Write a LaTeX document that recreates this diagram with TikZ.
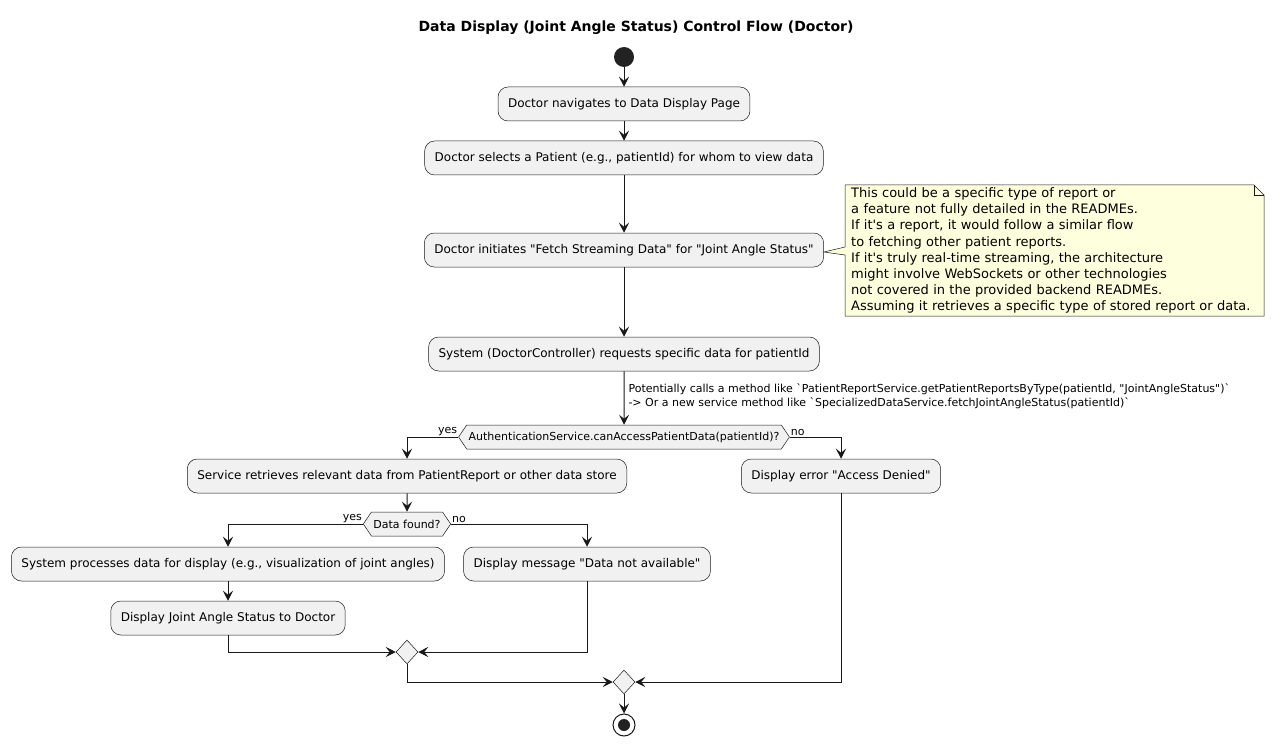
\documentclass[tikz,border=0pt]{standalone}
\usepackage{fontspec}
\setmainfont{DejaVu Sans}[Ligatures=TeXOff]
\usetikzlibrary{arrows.meta,shapes.geometric,shapes.symbols}
\newlength{\du}
\setlength{\du}{1pt}
\definecolor{flowcolor}{rgb}{0.094118, 0.094118, 0.094118}
\definecolor{boxcolor}{rgb}{0.945098, 0.945098, 0.945098}
\definecolor{notecolor}{rgb}{0.996078, 1.000000, 0.866667}
\definecolor{dotcolor}{rgb}{0.133333, 0.133333, 0.133333}
\begin{document}
\begin{tikzpicture}[
  activity/.style={draw=flowcolor, fill=boxcolor, line width=0.5\du, rounded corners=10\du,
    minimum height=34\du, inner xsep=10\du, font=\fontsize{12}{14}\selectfont},
  decision/.style={signal, signal to=east and west, signal pointer angle=112,
    draw=flowcolor, fill=boxcolor, line width=0.5\du, minimum height=24\du,
    inner xsep=2\du, inner ysep=0\du, font=\fontsize{11}{13}\selectfont},
  merge/.style={diamond, draw=flowcolor, fill=boxcolor, line width=0.5\du,
    minimum width=22\du, minimum height=24\du, inner sep=0\du},
  guard/.style={font=\fontsize{11}{13}\selectfont, inner sep=1\du},
  flow/.style={draw=flowcolor, line width=1\du, -{Stealth[length=10pt, width=10pt, inset=4pt]}},
  notetext/.style={font=\fontsize{13}{16.2}\selectfont, align=left, inner xsep=6\du,
    text width=407\du, minimum height=131\du, inner ysep=0\du}
]
\pgftransformxscale{1.000000}
\pgftransformyscale{-1.000000}
\useasboundingbox (0\du,0\du) rectangle (1274\du,746\du);
% title
\node (title) at (636.000000\du,28.000000\du){\fontsize{14}{16}\selectfont\bfseries Data Display (Joint Angle Status) Control Flow (Doctor)};
% start
\node[circle, fill=dotcolor, minimum size=20\du, inner sep=0\du] (start) at (624.000000\du,57.000000\du){};
% activities
\node[activity] (navigate) at (624.000000\du,104.000000\du){Doctor navigates to Data Display Page};
\node[activity] (select) at (624.000000\du,158.000000\du){Doctor selects a Patient (e.g., patientId) for whom to view data};
\node[activity] (fetch) at (624.000000\du,250.000000\du){Doctor initiates "Fetch Streaming Data" for "Joint Angle Status"};
\node[activity] (request) at (624.000000\du,354.000000\du){System (DoctorController) requests specific data for patientId};
\node[decision] (access) at (624.000000\du,437.000000\du){AuthenticationService.canAccessPatientData(patientId)?};
\node[activity] (retrieve) at (407.000000\du,476.000000\du){Service retrieves relevant data from PatientReport or other data store};
\node[activity] (denied) at (841.000000\du,476.000000\du){Display error "Access Denied"};
\node[decision] (found) at (407.000000\du,524.000000\du){Data found?};
\node[activity] (process) at (228.000000\du,564.000000\du){System processes data for display (e.g., visualization of joint angles)};
\node[activity] (show) at (228.000000\du,618.000000\du){Display Joint Angle Status to Doctor};
\node[activity] (missing) at (587.000000\du,564.000000\du){Display message "Data not available"};
\node[merge] (mergefound) at (407.000000\du,652.000000\du){};
\node[merge] (mergeaccess) at (624.000000\du,682.000000\du){};
% stop
\node[circle, draw=flowcolor, line width=1\du, fill=white, minimum size=22\du, inner sep=0\du] (stop) at (624.000000\du,725.000000\du){};
\node[circle, fill=dotcolor, minimum size=12\du, inner sep=0\du] (stopdot) at (stop){};
% note, outline first
\coordinate (notenw) at (845.000000\du,185.000000\du);
\coordinate (notese) at (1264.000000\du,316.000000\du);
\draw[draw=flowcolor, fill=notecolor, line width=0.5\du] (notenw) -- ([xshift=-10\du]notenw -| notese)
  -- ([yshift=10\du]notenw -| notese) -- (notese) -- (notenw |- notese)
  -- ([yshift=5\du]notenw |- fetch.east) -- ([yshift=2\du]fetch.east) -- ([yshift=-3\du]notenw |- fetch.east) -- cycle;
\draw[draw=flowcolor, line width=0.5\du] ([xshift=-10\du]notenw -| notese) -- ([xshift=-10\du, yshift=10\du]notenw -| notese) -- ([yshift=10\du]notenw -| notese);
\node[notetext, anchor=north west] (note) at (notenw){This could be a specific type of report or\\
a feature not fully detailed in the READMEs.\\
If it's a report, it would follow a similar flow\\
to fetching other patient reports.\\
If it's truly real-time streaming, the architecture\\
might involve WebSockets or other technologies\\
not covered in the provided backend READMEs.\\
Assuming it retrieves a specific type of stored report or data.};
% flows
\draw[flow] (start) -- (navigate);
\draw[flow] (navigate) -- (select);
\draw[flow] (select) -- (fetch);
\draw[flow] (fetch) -- (request);
\draw[flow] (request) -- node[anchor=west, align=left, font=\fontsize{11}{14}\selectfont, inner xsep=4\du, yshift=2\du]{Potentially calls a method like `PatientReportService.getPatientReportsByType(patientId, "JointAngleStatus")`\\-> Or a new service method like `SpecializedDataService.fetchJointAngleStatus(patientId)`} (access);
\draw[flow] (access.west) -| (retrieve.north);
\draw[flow] (access.east) -| (denied.north);
\node[guard, anchor=south east] (accessyes) at (access.west){yes};
\node[guard, anchor=south west] (accessno) at (access.east){no};
\draw[flow] (retrieve) -- (found);
\draw[flow] (found.west) -| (process.north);
\draw[flow] (found.east) -| (missing.north);
\node[guard, anchor=south east] (foundyes) at (found.west){yes};
\node[guard, anchor=south west] (foundno) at (found.east){no};
\draw[flow] (process) -- (show);
\draw[flow] (show.south) |- (mergefound.west);
\draw[flow] (missing.south) |- (mergefound.east);
\draw[flow] (mergefound.south) |- (mergeaccess.west);
\draw[flow] (denied.south) |- (mergeaccess.east);
\draw[flow] (mergeaccess) -- (stop);
\end{tikzpicture}
\end{document}
